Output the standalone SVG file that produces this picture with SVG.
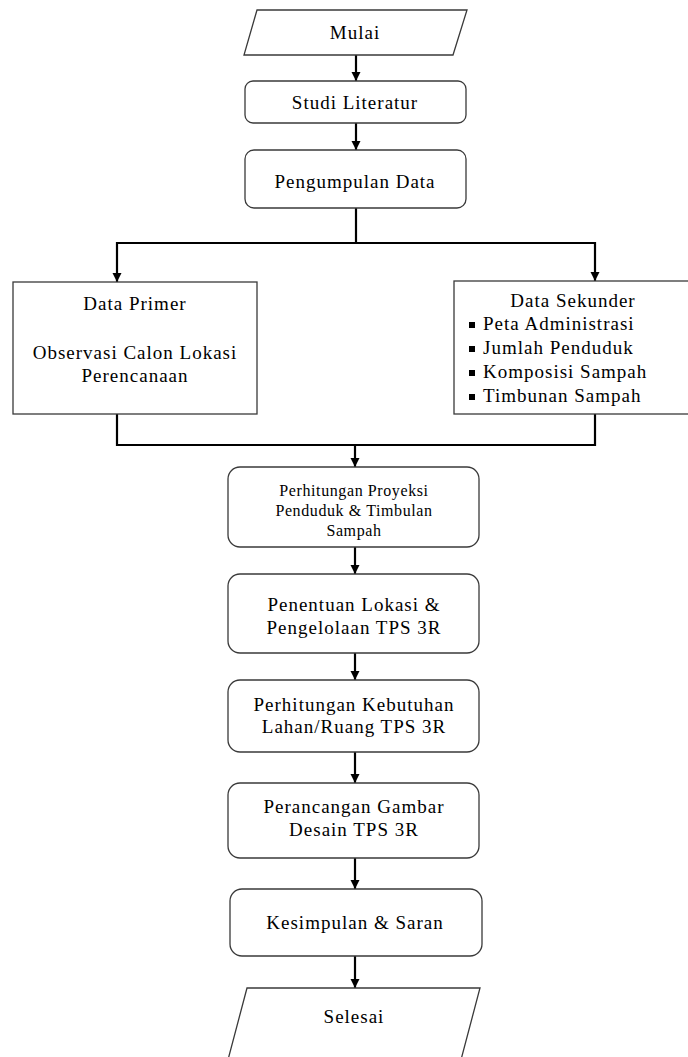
<svg xmlns="http://www.w3.org/2000/svg" width="688" height="1057" viewBox="0 0 688 1057">
<defs>
<marker id="ah" markerWidth="10" markerHeight="10" refX="9" refY="5" orient="auto" markerUnits="userSpaceOnUse">
<path d="M0,0.5 L9,5 L0,9.5 Z" fill="#000"/>
</marker>
<style>
.box{fill:#fff;stroke:#3a3a3a;stroke-width:1.3}
.t{font-family:"Liberation Serif","Times New Roman",serif;font-size:19px;fill:#000;text-anchor:middle;letter-spacing:1px}
.ts{font-family:"Liberation Serif","Times New Roman",serif;font-size:16px;fill:#000;text-anchor:middle;letter-spacing:0.6px}
.tl{font-family:"Liberation Serif","Times New Roman",serif;font-size:19px;fill:#000;letter-spacing:1px}
.c{fill:none;stroke:#000;stroke-width:2.2}
.a{fill:none;stroke:#000;stroke-width:2.2;marker-end:url(#ah)}
.b{fill:#000}
</style>
</defs>
<rect width="688" height="1057" fill="#fff"/>

<g id="connectors">
<line class="a" x1="356" y1="55" x2="356" y2="81"/>
<line class="a" x1="356" y1="123" x2="356" y2="150"/>
<polyline class="c" points="356,208 356,243"/>
<polyline class="a" points="356,243 117,243 117,282"/>
<polyline class="a" points="356,243 595,243 595,281"/>
<polyline class="c" points="117,414 117,445 595,445 595,414"/>
<line class="a" x1="355" y1="445" x2="355" y2="467"/>
<line class="a" x1="355" y1="547" x2="355" y2="574"/>
<line class="a" x1="355" y1="653" x2="355" y2="680"/>
<line class="a" x1="355" y1="752" x2="355" y2="783"/>
<line class="a" x1="355" y1="858" x2="355" y2="889"/>
<line class="a" x1="355" y1="956" x2="355" y2="988"/>
</g>

<g id="mulai">
<polygon class="box" points="257,10 467,10 453,55 244,55"/>
<text class="t" x="355" y="39">Mulai</text>
</g>

<g id="studi">
<rect class="box" x="245" y="81" width="221" height="42" rx="8"/>
<text class="t" x="355" y="109">Studi Literatur</text>
</g>

<g id="pengumpulan">
<rect class="box" x="245" y="150" width="221" height="58" rx="9"/>
<text class="t" x="355" y="188">Pengumpulan Data</text>
</g>

<g id="primer">
<rect class="box" x="13" y="282" width="244" height="132"/>
<text class="t" x="135" y="310">Data Primer</text>
<text class="t" x="135" y="359">Observasi Calon Lokasi</text>
<text class="t" x="135" y="382">Perencanaan</text>
</g>

<g id="sekunder">
<rect class="box" x="454" y="281" width="240" height="133"/>
<text class="t" x="573" y="307">Data Sekunder</text>
<rect class="b" x="469" y="322" width="6" height="6"/>
<text class="tl" x="483" y="330">Peta Administrasi</text>
<rect class="b" x="469" y="346" width="6" height="6"/>
<text class="tl" x="483" y="354">Jumlah Penduduk</text>
<rect class="b" x="469" y="370" width="6" height="6"/>
<text class="tl" x="483" y="378">Komposisi Sampah</text>
<rect class="b" x="469" y="394" width="6" height="6"/>
<text class="tl" x="483" y="402">Timbunan Sampah</text>
</g>

<g id="proyeksi">
<rect class="box" x="228" y="467" width="251" height="80" rx="12"/>
<text class="ts" x="354" y="496">Perhitungan Proyeksi</text>
<text class="ts" x="354" y="516">Penduduk &amp; Timbulan</text>
<text class="ts" x="354" y="536">Sampah</text>
</g>

<g id="penentuan">
<rect class="box" x="228" y="574" width="251" height="79" rx="12"/>
<text class="t" x="354" y="611">Penentuan Lokasi &amp;</text>
<text class="t" x="354" y="634">Pengelolaan TPS 3R</text>
</g>

<g id="kebutuhan">
<rect class="box" x="228" y="680" width="251" height="72" rx="12"/>
<text class="t" x="354" y="711">Perhitungan Kebutuhan</text>
<text class="t" x="354" y="733">Lahan/Ruang TPS 3R</text>
</g>

<g id="perancangan">
<rect class="box" x="228" y="783" width="251" height="75" rx="12"/>
<text class="t" x="354" y="813">Perancangan Gambar</text>
<text class="t" x="354" y="836">Desain TPS 3R</text>
</g>

<g id="kesimpulan">
<rect class="box" x="230" y="889" width="252" height="67" rx="12"/>
<text class="t" x="355" y="929">Kesimpulan &amp; Saran</text>
</g>

<g id="selesai">
<polygon class="box" points="247,988 480,988 453,1090 220,1090"/>
<text class="t" x="354" y="1023">Selesai</text>
</g>
</svg>
